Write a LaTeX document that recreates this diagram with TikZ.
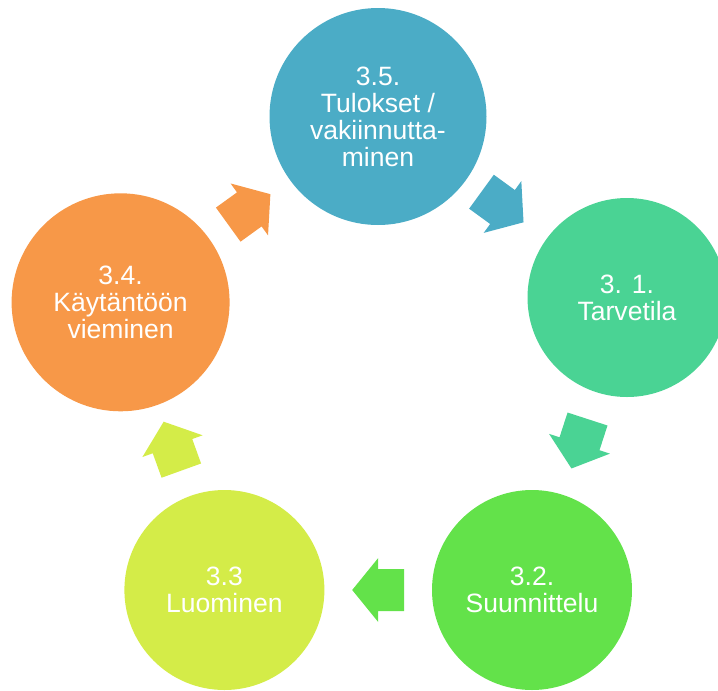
\documentclass[tikz,border=0pt]{standalone}
\usepackage{fontspec}
\setmainfont{Liberation Sans}
\usetikzlibrary{calc}
\definecolor{stageblue}{HTML}{4BACC6}
\definecolor{stageteal}{HTML}{4AD394}
\definecolor{stagegreen}{HTML}{63E24A}
\definecolor{stageyellow}{HTML}{D4EC48}
\definecolor{stageorange}{HTML}{F79848}
\tikzset{
  stage/.style={
    circle,
    fill=#1,
    text=white,
    inner sep=0pt,
    align=center,
    font=\fontsize{19.9}{20.3}\selectfont
  }
}
% block arrow from one stage to the next, centred between them
\newcommand{\cyclearrow}[3]{%
  \coordinate (m) at ($(#1)!0.5!(#2)$);
  \coordinate (t) at ($(m)!19.5pt!(#1)$);
  \coordinate (h) at ($(m)!19.5pt!(#2)$);
  \fill[#3] ($(t)!15.75pt!90:(m)$) -- ($(m)!15.75pt!90:(h)$)
    -- ($(m)!24pt!90:(h)$) -- (h) -- ($(m)!24pt!-90:(h)$)
    -- ($(m)!15.75pt!-90:(h)$) -- ($(t)!15.75pt!-90:(m)$) -- cycle;
}

\begin{document}
\begin{tikzpicture}[x=0.75pt, y=-0.75pt]
\useasboundingbox (0,0) rectangle (718,690);
\node[stage=stageblue, minimum size=162.75pt] (results) at (378,116.5) {3.5.\\Tulokset /\\vakiinnutta-\\minen};
\node[stage=stageteal, minimum size=149.25pt] (need) at (627,297.5) {3. 1.\\Tarvetila};
\node[stage=stagegreen, minimum size=150pt] (planning) at (532,590) {3.2.\\Suunnittelu};
\node[stage=stageyellow, minimum size=150pt] (creation) at (224.4,590) {3.3\\Luominen};
\node[stage=stageorange, minimum size=163.5pt] (adoption) at (120.6,302.3) {3.4.\\Käytäntöön\\vieminen};

\cyclearrow{results}{need}{stageblue}
\cyclearrow{need}{planning}{stageteal}
\cyclearrow{planning}{creation}{stagegreen}
\cyclearrow{creation}{adoption}{stageyellow}
\cyclearrow{adoption}{results}{stageorange}
\end{tikzpicture}
\end{document}
